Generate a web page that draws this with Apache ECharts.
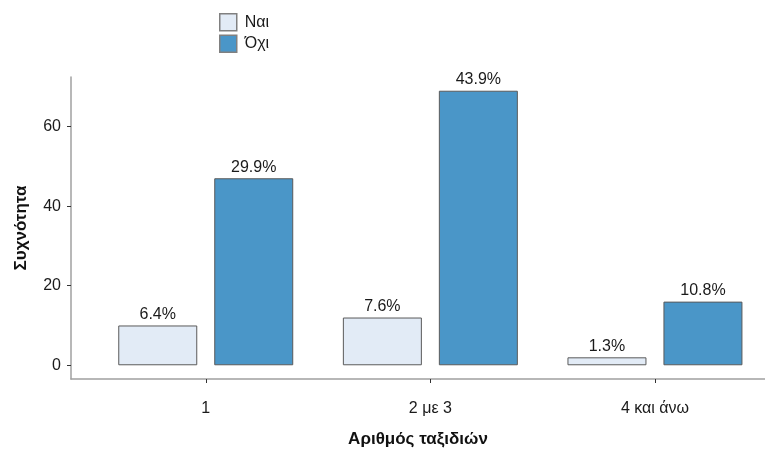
<!DOCTYPE html>
<html>
<head>
<meta charset="utf-8">
<script src="https://cdn.jsdelivr.net/npm/echarts@6/dist/echarts.min.js"></script>
<style>
html,body{margin:0;padding:0;background:#fff;}
#chart{width:765px;height:450px;}
</style>
</head>
<body>
<div id="chart"></div>
<script>
var categories = ['1', '2 με 3', '4 και άνω'];
var seriesNames = ['Ναι', 'Όχι'];
var naiValues = [10, 12, 2];
var oxiValues = [47, 69, 16];
var naiLabels = ['6.4%', '7.6%', '1.3%'];
var oxiLabels = ['29.9%', '43.9%', '10.8%'];
var yTicks = [0, 20, 40, 60];

var FONT = "'Liberation Sans Narrow', 'Arial Narrow', 'Liberation Sans', sans-serif";
var positions = categories.map(function (c, i) { return i + 1; });

function mkData(vals) {
  return vals.map(function (v, i) { return [positions[i], v]; });
}

var chart = echarts.init(document.getElementById('chart'), null, {renderer: 'canvas'});
chart.setOption({
  animation: false,
  backgroundColor: '#ffffff',
  textStyle: {fontFamily: FONT},
  legend: {
    orient: 'vertical',
    left: 214,
    top: 8,
    itemWidth: 17,
    itemHeight: 17,
    itemGap: 3,
    icon: 'rect',
    itemStyle: {borderColor: '#808080', borderWidth: 1.5},
    textStyle: {fontFamily: FONT, fontSize: 16, color: '#1a1a1a', padding: [0, 0, 0, 3]},
    data: seriesNames
  },
  grid: {left: 71, right: 0, top: 77, bottom: 71, containLabel: false, outerBoundsMode: 'none'},
  xAxis: {
    type: 'value',
    min: 0.4,
    max: 3.49,
    name: 'Αριθμός ταξιδιών',
    nameLocation: 'middle',
    nameGap: 52,
    nameTextStyle: {fontFamily: FONT, fontSize: 17, fontWeight: 'bold', color: '#111'},
    axisLine: {show: true, onZero: false, lineStyle: {color: '#a0a0a0', width: 1.5}},
    axisTick: {show: true, length: 4, customValues: positions, lineStyle: {color: '#333', width: 1}},
    axisLabel: {
      customValues: positions,
      fontFamily: FONT, fontSize: 16, color: '#1a1a1a', margin: 22,
      formatter: function (v) { return categories[Math.round(v) - 1]; }
    },
    splitLine: {show: false}
  },
  yAxis: {
    type: 'value',
    min: -3.45,
    max: 72.45,
    name: 'Συχνότητα',
    nameLocation: 'middle',
    nameRotate: 90,
    nameGap: 41,
    nameTextStyle: {fontFamily: FONT, fontSize: 17, fontWeight: 'bold', color: '#111'},
    axisLine: {show: true, onZero: false, lineStyle: {color: '#a0a0a0', width: 1.5}},
    axisTick: {show: true, length: 4, customValues: yTicks, lineStyle: {color: '#333', width: 1}},
    axisLabel: {customValues: yTicks, fontFamily: FONT, fontSize: 16, color: '#1a1a1a', margin: 10},
    splitLine: {show: false}
  },
  series: [
    {
      name: seriesNames[0],
      type: 'bar',
      data: mkData(naiValues),
      barWidth: 79,
      barGap: '21.5%',
      itemStyle: {color: '#e2ebf6', borderColor: '#5a5a5a', borderWidth: 1},
      label: {
        show: true, position: 'top', distance: 3,
        fontFamily: FONT, fontSize: 16, color: '#1a1a1a',
        formatter: function (p) { return naiLabels[p.dataIndex]; }
      }
    },
    {
      name: seriesNames[1],
      type: 'bar',
      data: mkData(oxiValues),
      barWidth: 79,
      barGap: '21.5%',
      itemStyle: {color: '#4a96c8', borderColor: '#5a5a5a', borderWidth: 1},
      label: {
        show: true, position: 'top', distance: 3,
        fontFamily: FONT, fontSize: 16, color: '#1a1a1a',
        formatter: function (p) { return oxiLabels[p.dataIndex]; }
      }
    }
  ]
});
</script>
</body>
</html>
